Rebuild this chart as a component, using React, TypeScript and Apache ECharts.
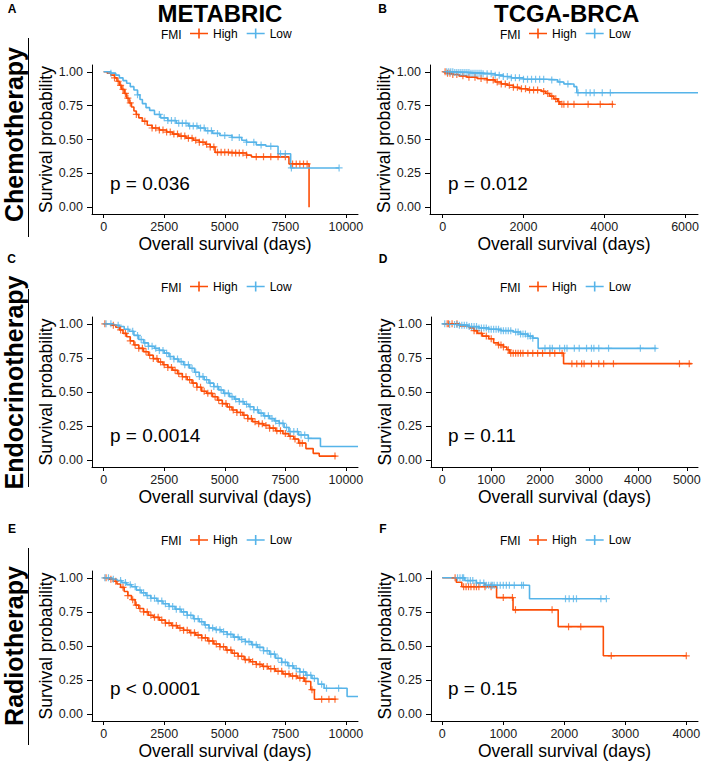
import React, { useEffect, useRef } from "react";
import * as echarts from "echarts";

type Step = [number, number];

const RED = "#FC4E07";
const BLUE = "#56B4E9";
const FONT = "'Liberation Sans', Arial, Helvetica, sans-serif";

// ---------- tick labels ----------
const survTicks = [0, 0.25, 0.5, 0.75, 1];
const metabricTicks = [0, 2500, 5000, 7500, 10000];
const tcgaChemoTicks = [0, 2000, 4000, 6000];
const tcgaEndoTicks = [0, 1000, 2000, 3000, 4000, 5000];
const tcgaRadioTicks = [0, 1000, 2000, 3000, 4000];

// ---------- A: METABRIC chemotherapy ----------
const aHigh: Step[] = [[0,1],[150,0.99],[300,0.975],[450,0.955],[550,0.93],[650,0.9],[750,0.87],[850,0.84],[950,0.805],[1050,0.77],[1150,0.74],[1250,0.71],[1350,0.685],[1450,0.66],[1600,0.635],[1800,0.605],[2000,0.585],[2300,0.57],[2600,0.555],[2850,0.54],[3100,0.525],[3400,0.51],[3700,0.495],[3950,0.48],[4200,0.465],[4400,0.445],[4600,0.405],[5200,0.4],[5900,0.385],[6100,0.372],[7650,0.32],[8480,0.0]];
const aLow: Step[] = [[0,1],[300,0.99],[500,0.975],[650,0.955],[800,0.935],[950,0.915],[1100,0.89],[1250,0.865],[1400,0.83],[1500,0.795],[1600,0.765],[1750,0.735],[1900,0.715],[2100,0.685],[2350,0.66],[2650,0.64],[3000,0.62],[3500,0.6],[3900,0.585],[4200,0.565],[4500,0.545],[4800,0.53],[5300,0.515],[5700,0.495],[5900,0.48],[6300,0.46],[6700,0.45],[7200,0.395],[7720,0.29],[9720,0.29]];
const aHighCensor = [450,600,700,800,900,1000,1100,1350,1700,2000,2150,2300,2450,2600,2750,2900,3050,3200,3350,3500,3650,3800,3950,4100,4250,4400,4550,4700,4850,5000,5150,5300,5450,5600,5750,5900,6300,6600,6900,7200,7500,7800,7950,8100,8250,8400];
const aLowCensor = [300,1400,2300,2500,2650,2800,2950,3100,3250,3400,3550,3700,3850,4000,4150,4300,4450,4700,5000,5300,5600,5900,6200,6500,6900,7300,7500,7750,9720];

// ---------- B: TCGA-BRCA chemotherapy ----------
const bHigh: Step[] = [[0,1],[100,0.99],[250,0.98],[400,0.97],[600,0.96],[850,0.95],[1100,0.94],[1300,0.925],[1450,0.91],[1600,0.9],[1750,0.885],[1900,0.875],[2100,0.865],[2450,0.855],[2550,0.84],[2650,0.82],[2750,0.8],[2850,0.78],[2900,0.76],[4230,0.76]];
const bLow: Step[] = [[0,1],[300,0.995],[700,0.99],[1000,0.985],[1300,0.975],[1500,0.965],[1700,0.955],[2000,0.945],[2600,0.94],[2850,0.925],[3000,0.91],[3250,0.89],[3320,0.845],[6320,0.845]];
const bHighCensor = [60,120,180,250,350,500,650,800,950,1100,1250,1350,1450,1550,1650,1750,1850,1950,2050,2150,2250,2350,2500,2600,2700,2800,2870,2950,3000,3100,3250,3600,3900,4200];
const bLowCensor = [100,150,200,250,300,350,400,450,500,550,600,650,700,750,800,850,900,950,1000,1100,1200,1300,1400,1500,1600,1700,1800,1900,2000,2100,2200,2300,2400,2500,2700,2900,3100,3350,3550,3650,3750,3950,4150];

// ---------- C: METABRIC endocrinotherapy ----------
const cHigh: Step[] = [[0,1],[300,0.99],[500,0.975],[650,0.955],[800,0.93],[950,0.905],[1100,0.875],[1250,0.845],[1450,0.82],[1650,0.795],[1850,0.77],[2050,0.745],[2250,0.72],[2450,0.7],[2650,0.68],[2850,0.66],[3050,0.635],[3250,0.612],[3450,0.59],[3650,0.565],[3850,0.535],[4050,0.505],[4250,0.49],[4500,0.465],[4700,0.44],[4900,0.415],[5100,0.39],[5300,0.368],[5500,0.35],[5750,0.33],[5950,0.305],[6150,0.282],[6400,0.268],[6600,0.255],[6850,0.235],[7100,0.215],[7400,0.195],[7650,0.175],[7850,0.155],[8050,0.125],[8350,0.085],[8650,0.05],[8900,0.03],[9600,0.03]];
const cLow: Step[] = [[0,1],[400,0.99],[650,0.98],[850,0.96],[1050,0.945],[1250,0.915],[1450,0.885],[1650,0.86],[1850,0.835],[2100,0.82],[2300,0.805],[2500,0.785],[2700,0.76],[2900,0.742],[3100,0.723],[3300,0.7],[3550,0.674],[3750,0.645],[3950,0.613],[4150,0.59],[4350,0.565],[4550,0.54],[4750,0.515],[4950,0.49],[5200,0.466],[5400,0.448],[5600,0.43],[5800,0.41],[6000,0.392],[6200,0.37],[6400,0.345],[6600,0.325],[6850,0.305],[7050,0.288],[7250,0.27],[7450,0.24],[7650,0.21],[8050,0.185],[8450,0.16],[8950,0.1],[10500,0.1]];
const cHighCensor = [50,400,700,900,1100,1300,1450,1600,1750,1900,2050,2200,2350,2500,2650,2800,2950,3100,3250,3400,3550,3700,3850,4000,4150,4300,4450,4600,4750,4900,5050,5200,5350,5500,5650,5800,5950,6100,6250,6400,6550,6700,6850,7000,7150,7300,7500,7700,7900,8100,8200,9550];
const cLowCensor = [100,300,600,1000,1200,1400,1550,1700,1850,2000,2150,2300,2450,2600,2750,2900,3050,3200,3350,3500,3650,3800,3950,4100,4250,4400,4550,4700,4850,5000,5150,5300,5450,5600,5750,5900,6050,6200,6350,6500,6650,6800,6950,7100,7250,7400,7550,7700,7850,8000,8150,8300,8450];

// ---------- D: TCGA-BRCA endocrinotherapy ----------
const dHigh: Step[] = [[0,1],[350,0.985],[550,0.97],[650,0.95],[720,0.93],[820,0.91],[950,0.89],[1050,0.86],[1150,0.845],[1250,0.83],[1320,0.81],[1380,0.785],[2480,0.708],[5100,0.708]];
const dLow: Step[] = [[0,1],[150,0.995],[350,0.99],[550,0.98],[750,0.97],[950,0.96],[1200,0.95],[1450,0.94],[1600,0.925],[1750,0.91],[1850,0.895],[1960,0.82],[4380,0.82]];
const dHighCensor = [100,130,200,300,650,700,800,900,1000,1150,1200,1250,1350,1400,1450,1500,1550,1600,1650,1750,1850,1950,2050,2200,2300,2450,2650,2750,2850,2900,3050,3200,3300,3500,4850,5050];
const dLowCensor = [50,150,250,300,350,400,450,500,550,600,650,700,750,800,850,900,950,1000,1050,1100,1150,1200,1250,1300,1350,1400,1500,1550,1600,1650,1700,1750,1800,1850,2100,2200,2250,2400,2500,2550,2700,2800,2950,3050,3100,3200,3400,4050,4350];

// ---------- E: METABRIC radiotherapy ----------
const eHigh: Step[] = [[0,1],[250,0.99],[400,0.975],[550,0.955],[700,0.93],[850,0.9],[1000,0.87],[1150,0.84],[1300,0.8],[1450,0.775],[1650,0.75],[1850,0.725],[2050,0.71],[2300,0.69],[2550,0.668],[2800,0.65],[3050,0.632],[3300,0.615],[3550,0.598],[3800,0.58],[4050,0.56],[4300,0.537],[4550,0.515],[4800,0.495],[5050,0.47],[5300,0.447],[5550,0.425],[5800,0.4],[6050,0.385],[6300,0.365],[6550,0.35],[6800,0.333],[7100,0.315],[7400,0.295],[7700,0.28],[8000,0.265],[8300,0.24],[8550,0.18],[8700,0.11],[9600,0.11]];
const eLow: Step[] = [[0,1],[350,0.99],[550,0.98],[750,0.965],[950,0.95],[1150,0.935],[1350,0.91],[1550,0.89],[1750,0.87],[1950,0.85],[2200,0.83],[2450,0.81],[2700,0.79],[2950,0.77],[3200,0.75],[3450,0.725],[3700,0.7],[3950,0.678],[4150,0.655],[4350,0.632],[4600,0.62],[4850,0.605],[5100,0.585],[5350,0.565],[5600,0.548],[5850,0.532],[6100,0.51],[6350,0.49],[6600,0.465],[6850,0.44],[7100,0.41],[7350,0.38],[7600,0.355],[7850,0.335],[8100,0.31],[8350,0.285],[8600,0.262],[8850,0.22],[9100,0.19],[10050,0.13],[10500,0.13]];
const eHighCensor = [100,300,500,800,1000,1200,1350,1500,1650,1800,1950,2100,2250,2400,2550,2700,2850,3000,3150,3300,3450,3600,3750,3900,4050,4200,4350,4500,4650,4800,4950,5100,5250,5400,5550,5700,5850,6000,6150,6300,6450,6600,6750,6900,7050,7200,7350,7500,7650,7800,7950,8100,8250,8350,8600,9000,9300,9550];
const eLowCensor = [50,200,400,700,900,1100,1300,1500,1650,1800,1950,2100,2250,2400,2550,2700,2850,3000,3150,3300,3450,3600,3750,3900,4050,4200,4350,4500,4650,4800,4950,5100,5250,5400,5550,5700,5850,6000,6150,6300,6450,6600,6750,6900,7050,7200,7350,7500,7650,7800,7950,8100,8250,8400,8550,8700,9000,9200,9700];

// ---------- F: TCGA-BRCA radiotherapy ----------
const fHigh: Step[] = [[0,1],[230,0.968],[320,0.935],[890,0.855],[1160,0.765],[1900,0.642],[2640,0.428],[4005,0.428]];
const fLow: Step[] = [[0,1],[370,0.98],[560,0.962],[700,0.945],[1430,0.847],[2690,0.847]];
const fHighCensor = [210,350,390,430,470,520,560,600,700,800,1000,1150,1200,1800,2070,2270,2770,4000];
const fLowCensor = [250,290,330,350,420,460,500,560,620,680,720,760,800,820,850,900,950,1000,1050,1100,1180,1300,1330,2020,2080,2150,2200,2600,2690];

const pValues = ["p = 0.036", "p = 0.012", "p = 0.0014", "p = 0.11", "p < 0.0001", "p = 0.15"];
const columnTitles = ["METABRIC", "TCGA-BRCA"];
const rowTitles = ["Chemotherapy", "Endocrinotherapy", "Radiotherapy"];
const panelLetters = ["A", "B", "C", "D", "E", "F"];
const groupNames = ["High", "Low"];

function survAt(steps: Step[], t: number): number {
  let s = steps[0][1];
  for (const [tt, v] of steps) {
    if (tt <= t) s = v;
    else break;
  }
  return s;
}

const PLUS =
  "path://M-0.17,-1 L0.17,-1 L0.17,-0.17 L1,-0.17 L1,0.17 L0.17,0.17 L0.17,1 L-0.17,1 L-0.17,0.17 L-1,0.17 L-1,-0.17 L-0.17,-0.17 Z";
const LEGEND_ICON =
  "path://M0,4.2 L18,4.2 L18,5.8 L0,5.8 Z M8.2,0 L9.8,0 L9.8,10 L8.2,10 Z";

const panels = [
  { grid: { left: 92, top: 65, width: 266, height: 149 }, xMin: -480, xMax: 10500, ticks: metabricTicks, high: aHigh, low: aLow, highC: aHighCensor, lowC: aLowCensor, fmiX: 161, legX: 190, legY: 34.5, pX: 110, pY: 183.5, letter: [12, 8.5] },
  { grid: { left: 430, top: 65, width: 268, height: 149 }, xMin: -314, xMax: 6320, ticks: tcgaChemoTicks, high: bHigh, low: bLow, highC: bHighCensor, lowC: bLowCensor, fmiX: 500, legX: 529, legY: 34.5, pX: 448, pY: 183.5, letter: [382.5, 8.5] },
  { grid: { left: 92, top: 317, width: 266, height: 150 }, xMin: -480, xMax: 10500, ticks: metabricTicks, high: cHigh, low: cLow, highC: cHighCensor, lowC: cLowCensor, fmiX: 161, legX: 190, legY: 287.5, pX: 110, pY: 435.5, letter: [11.5, 259] },
  { grid: { left: 431, top: 317, width: 267, height: 150 }, xMin: -231, xMax: 5229, ticks: tcgaEndoTicks, high: dHigh, low: dLow, highC: dHighCensor, lowC: dLowCensor, fmiX: 500, legX: 529, legY: 287.5, pX: 448, pY: 435.5, letter: [383, 259] },
  { grid: { left: 92, top: 571, width: 266, height: 150 }, xMin: -480, xMax: 10500, ticks: metabricTicks, high: eHigh, low: eLow, highC: eHighCensor, lowC: eLowCensor, fmiX: 161, legX: 190, legY: 541, pX: 110, pY: 688.5, letter: [12, 529] },
  { grid: { left: 431, top: 571, width: 267, height: 150 }, xMin: -185, xMax: 4192, ticks: tcgaRadioTicks, high: fHigh, low: fLow, highC: fHighCensor, lowC: fLowCensor, fmiX: 500, legX: 529, legY: 541, pX: 448, pY: 688.5, letter: [383, 529] },
];

function txt(x: number, y: number, text: string, size: number, opts: any = {}) {
  const align = opts.align || "left";
  return {
    type: "text",
    x,
    y,
    rotation: opts.rotation || 0,
    silent: true,
    style: {
      text,
      fontSize: size,
      fontFamily: FONT,
      fontWeight: opts.bold ? "bold" : "normal",
      fill: "#000",
      align,
      textAlign: align,
      verticalAlign: "middle",
      textVerticalAlign: "middle",
    },
  };
}

function buildOption() {
  const grid: any[] = [];
  const xAxis: any[] = [];
  const yAxis: any[] = [];
  const series: any[] = [];
  const legend: any[] = [];
  const graphic: any[] = [];

  panels.forEach((p, i) => {
    grid.push({ ...p.grid, containLabel: false, outerBoundsMode: "none" });
    xAxis.push({
      type: "value",
      gridIndex: i,
      min: p.xMin,
      max: p.xMax,
      name: "Overall survival (days)",
      nameLocation: "middle",
      nameGap: 21,
      nameTextStyle: { fontSize: 17.5, fontFamily: FONT, color: "#000" },
      axisLine: { show: true, onZero: false, lineStyle: { color: "#000", width: 1 } },
      axisTick: { show: true, length: 4, customValues: p.ticks, lineStyle: { color: "#000" } },
      axisLabel: {
        customValues: p.ticks,
        margin: 6,
        fontSize: 12.5,
        fontFamily: FONT,
        color: "#1a1a1a",
        formatter: (v: number) => String(Math.round(v)),
      },
      splitLine: { show: false },
    });
    yAxis.push({
      type: "value",
      gridIndex: i,
      min: -0.05,
      max: 1.05,
      name: "Survival probability",
      nameLocation: "middle",
      nameGap: 37,
      nameTextStyle: { fontSize: 17.5, fontFamily: FONT, color: "#000" },
      axisLine: { show: true, onZero: false, lineStyle: { color: "#000", width: 1 } },
      axisTick: { show: true, length: 5, customValues: survTicks, lineStyle: { color: "#000" } },
      axisLabel: {
        customValues: survTicks,
        margin: 9,
        fontSize: 12.5,
        fontFamily: FONT,
        color: "#1a1a1a",
        formatter: (v: number) => v.toFixed(2),
      },
      splitLine: { show: false },
    });

    const groups = [
      { name: groupNames[0], color: RED, steps: p.high, cens: p.highC },
      { name: groupNames[1], color: BLUE, steps: p.low, cens: p.lowC },
    ];
    groups.forEach((g) => {
      series.push({
        type: "line",
        name: g.name,
        xAxisIndex: i,
        yAxisIndex: i,
        data: g.steps,
        step: "end",
        showSymbol: false,
        symbol: "none",
        silent: true,
        lineStyle: { color: g.color, width: 1.6 },
        itemStyle: { color: g.color },
        z: 2,
      });
      series.push({
        type: "scatter",
        name: g.name,
        xAxisIndex: i,
        yAxisIndex: i,
        data: g.cens.map((t) => [t, survAt(g.steps, t)]),
        symbol: PLUS,
        symbolSize: 7,
        silent: true,
        itemStyle: { color: g.color },
        z: 3,
      });
    });

    legend.push({
      left: p.legX,
      top: p.legY - 7,
      padding: 0,
      orient: "horizontal",
      data: groupNames,
      icon: LEGEND_ICON,
      itemWidth: 18,
      itemHeight: 10,
      itemGap: 9,
      selectedMode: false,
      textStyle: { fontSize: 12, fontFamily: FONT, color: "#000" },
    });

    graphic.push(txt(p.fmiX, p.legY, "FMI", 12));
    graphic.push(txt(p.pX, p.pY, pValues[i], 19));
    graphic.push(txt(p.letter[0], p.letter[1], panelLetters[i], 12, { bold: true, align: "center" }));
  });

  graphic.push(txt(220, 13, columnTitles[0], 24, { bold: true, align: "center" }));
  graphic.push(txt(566.7, 13, columnTitles[1], 24, { bold: true, align: "center" }));

  const rowCenters = [134.5, 382.5, 646];
  const rowLines = [
    [38, 237],
    [289, 487],
    [548, 745],
  ];
  rowTitles.forEach((r, k) => {
    graphic.push(txt(13.5, rowCenters[k], r, 25, { bold: true, align: "center", rotation: Math.PI / 2 }));
    graphic.push({
      type: "line",
      silent: true,
      shape: { x1: 28.5, y1: rowLines[k][0], x2: 28.5, y2: rowLines[k][1] },
      style: { stroke: "#000", lineWidth: 1 },
    });
  });

  return {
    animation: false,
    backgroundColor: "#fff",
    textStyle: { fontFamily: FONT },
    grid,
    xAxis,
    yAxis,
    legend,
    series,
    graphic,
  };
}

export default function App() {
  const ref = useRef<HTMLDivElement>(null);
  useEffect(() => {
    if (!ref.current) return;
    const chart = echarts.init(ref.current, undefined, { renderer: "svg" });
    chart.setOption(buildOption() as any);
    return () => chart.dispose();
  }, []);
  return (
    <div
      ref={ref}
      style={{ position: "absolute", left: 0, top: 0, width: 701, height: 761, background: "#fff" }}
    />
  );
}
